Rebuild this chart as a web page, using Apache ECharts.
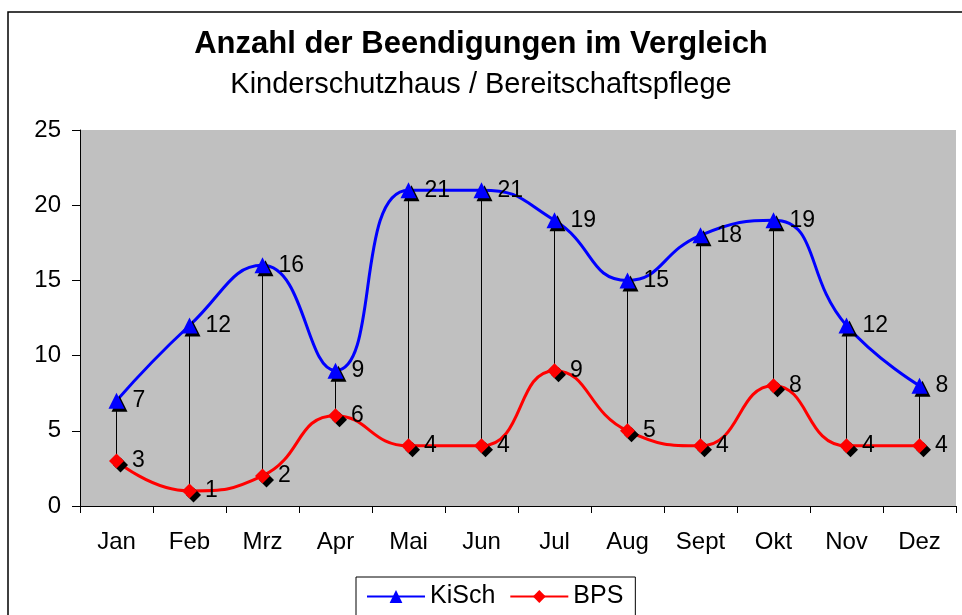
<!DOCTYPE html>
<html>
<head>
<meta charset="utf-8">
<script src="https://cdn.jsdelivr.net/npm/echarts@6/dist/echarts.min.js"></script>
<style>
html,body{margin:0;padding:0;background:#fff;}
#chart{width:962px;height:615px;}
</style>
</head>
<body>
<div id="chart"></div>
<script>
var months = ['Jan','Feb','Mrz','Apr','Mai','Jun','Jul','Aug','Sept','Okt','Nov','Dez'];
var kisch = [7,12,16,9,21,21,19,15,18,19,12,8];
var bps = [3,1,2,6,4,4,9,5,4,8,4,4];
var yTicks = [0,5,10,15,20,25];

var myChart = echarts.init(document.getElementById('chart'));
var font = 'Liberation Sans, Arial, sans-serif';

var option = {
    backgroundColor:'#fff',
    animation:false,
    textStyle:{fontFamily:font},
    graphic:[{
        type:'rect',
        shape:{x:8,y:12,width:990,height:640},
        style:{fill:null,stroke:'#000',lineWidth:1.5},
        silent:true
    }],
    title:{
        text:'Anzahl der Beendigungen im Vergleich',
        subtext:'Kinderschutzhaus / Bereitschaftspflege',
        left:'center',
        top:24,
        itemGap:10,
        textStyle:{fontFamily:font,fontSize:31,fontWeight:'bold',color:'#000'},
        subtextStyle:{fontFamily:font,fontSize:29,color:'#000'}
    },
    legend:{
        top:577,
        left:356,
        borderColor:'#000',
        borderWidth:1,
        padding:[7,12,10,10],
        itemWidth:58,
        itemHeight:16,
        itemGap:14,
        textStyle:{fontFamily:font,fontSize:25,color:'#000'},
        data:['KiSch','BPS']
    },
    grid:{left:80,right:6,top:130,height:376},
    xAxis:{
        type:'category',
        data:months,
        boundaryGap:true,
        axisLine:{lineStyle:{color:'#000',width:1}},
        axisTick:{show:true,inside:false,length:7,lineStyle:{color:'#000'}},
        axisLabel:{color:'#000',fontSize:24,fontFamily:font,margin:24}
    },
    yAxis:{
        type:'value',
        min:yTicks[0],
        max:yTicks[yTicks.length-1],
        interval:5,
        axisLine:{show:true,lineStyle:{color:'#000',width:1}},
        axisTick:{show:true,length:8,lineStyle:{color:'#000'}},
        axisLabel:{color:'#000',fontSize:24,fontFamily:font,margin:19},
        splitLine:{show:true,lineStyle:{color:'#000',width:1}},
        splitArea:{show:false}
    },
    series:[
        {
            // grauer Hintergrund der Zeichenfläche
            type:'custom',
            silent:true,
            z:0,
            data:[0],
            renderItem:function(params,api){
                var c = params.coordSys;
                return {type:'rect',shape:{x:c.x,y:c.y,width:c.width,height:c.height},
                        style:{fill:'#C0C0C0'}};
            }
        },
        {
            // Verbindungslinien zwischen den Reihen
            type:'custom',
            silent:true,
            z:1,
            data:kisch.map(function(v,i){return [i,v,bps[i]];}),
            encode:{x:0,y:[1,2]},
            renderItem:function(params,api){
                var p1 = api.coord([api.value(0),api.value(1)]);
                var p2 = api.coord([api.value(0),api.value(2)]);
                return {type:'line',shape:{x1:p1[0],y1:p1[1],x2:p2[0],y2:p2[1]},
                        style:{stroke:'#000',lineWidth:1}};
            }
        },
        {
            name:'KiSch',
            type:'line',
            data:kisch,
            smooth:0.5,
            z:3,
            color:'#0000FF',
            symbol:'triangle',
            symbolSize:16,
            lineStyle:{color:'#0000FF',width:3},
            itemStyle:{color:'#0000FF',shadowColor:'#000',shadowBlur:0,shadowOffsetX:3,shadowOffsetY:3},
            label:{show:true,position:'right',distance:8,color:'#000',fontSize:23,fontFamily:font}
        },
        {
            name:'BPS',
            type:'line',
            data:bps,
            smooth:0.5,
            z:3,
            color:'#FF0000',
            symbol:'diamond',
            symbolSize:15,
            lineStyle:{color:'#FF0000',width:3},
            itemStyle:{color:'#FF0000',shadowColor:'#000',shadowBlur:0,shadowOffsetX:4,shadowOffsetY:4},
            label:{show:true,position:'right',distance:8,color:'#000',fontSize:23,fontFamily:font}
        }
    ]
};
myChart.setOption(option);
</script>
</body>
</html>
